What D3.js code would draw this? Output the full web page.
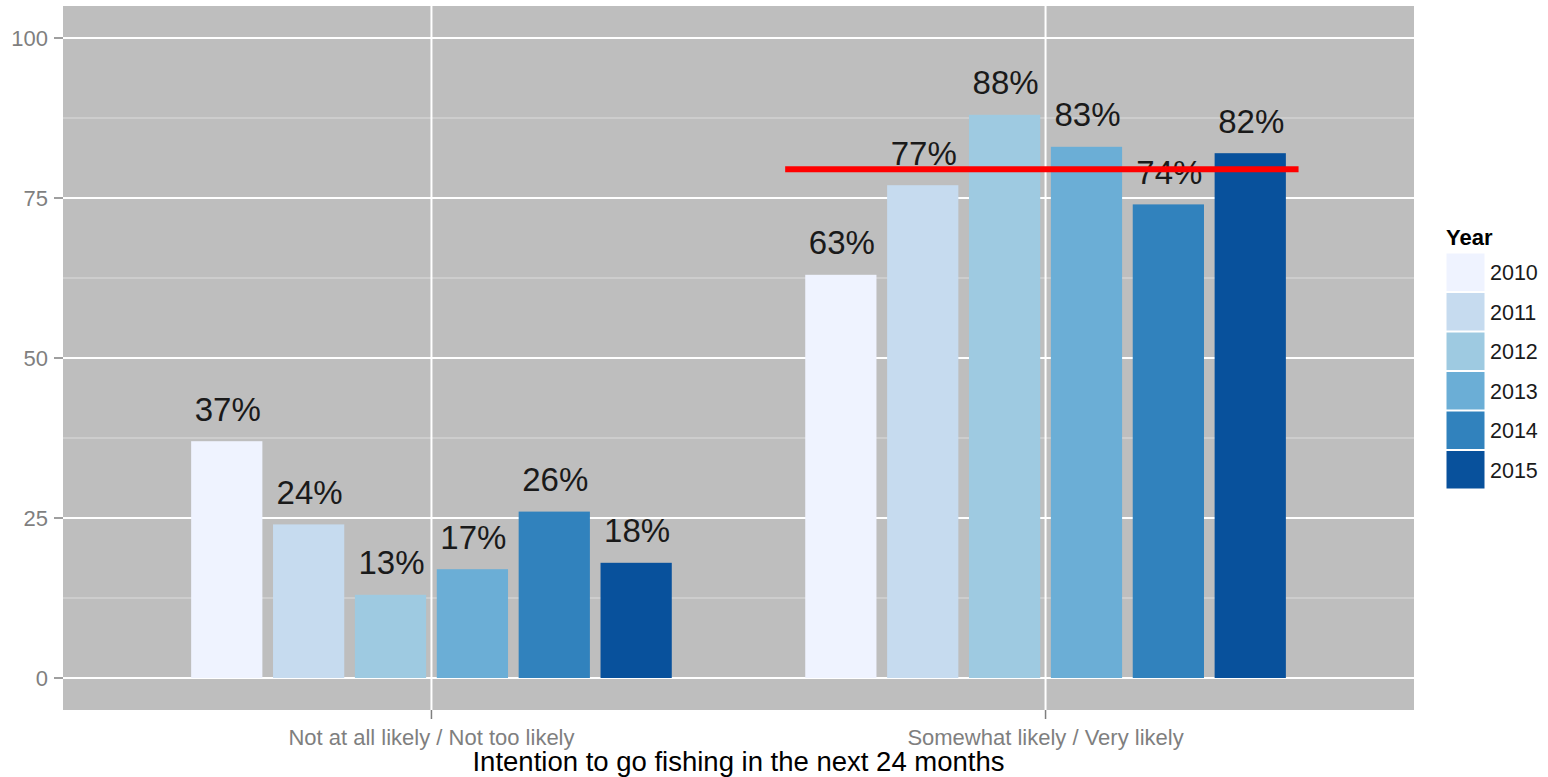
<!DOCTYPE html>
<html>
<head>
<meta charset="utf-8">
<script src="https://cdn.jsdelivr.net/npm/d3@7"></script>
<style>
  body { margin: 0; background: #fff; }
  svg { display: block; font-family: "Liberation Sans", Arial, Helvetica, sans-serif; }
</style>
</head>
<body>
<svg id="chart" width="1548" height="777"></svg>
<script>
// Share of anglers by intention to go fishing, per survey year
const categories = ["Not at all likely / Not too likely", "Somewhat likely / Very likely"];
const years = ["2010", "2011", "2012", "2013", "2014", "2015"];
const notLikely = [37, 24, 13, 17, 26, 18];
const likely = [63, 77, 88, 83, 74, 82];
const yTicks = [0, 25, 50, 75, 100];
const yMinorTicks = [12.5, 37.5, 62.5, 87.5];
const targetValue = 79.5;
const yearColors = ["#eff3ff", "#c6dbef", "#9ecae1", "#6baed6", "#3182bd", "#08519c"];

const seriesByCategory = [notLikely, likely];

const svg = d3.select("#chart");
const panel = { left: 63, right: 1414, top: 6, bottom: 710 };

// Discrete x positions with ggplot-style padding of 0.6 units on each side
const x = d3.scalePoint()
  .domain(categories)
  .range([panel.left, panel.right])
  .padding(0.6);

const groupWidth = x.step() * 0.8;
const xInner = d3.scaleBand()
  .domain(years)
  .range([-groupWidth / 2, groupWidth / 2]);
const barWidth = xInner.bandwidth() * 0.87;

const y = d3.scaleLinear().domain([-5, 105]).range([panel.bottom, panel.top]);

const color = d3.scaleOrdinal().domain(years).range(yearColors);

// Panel background
svg.append("rect")
  .attr("x", panel.left).attr("y", panel.top)
  .attr("width", panel.right - panel.left).attr("height", panel.bottom - panel.top)
  .attr("fill", "#bebebe");

// Minor and major grid lines
svg.append("g").selectAll("line").data(yMinorTicks).join("line")
  .attr("x1", panel.left).attr("x2", panel.right)
  .attr("y1", d => y(d)).attr("y2", d => y(d))
  .attr("stroke", "#dcdcdc").attr("stroke-width", 1);

svg.append("g").selectAll("line").data(yTicks).join("line")
  .attr("x1", panel.left).attr("x2", panel.right)
  .attr("y1", d => y(d)).attr("y2", d => y(d))
  .attr("stroke", "#ffffff").attr("stroke-width", 2);

svg.append("g").selectAll("line").data(categories).join("line")
  .attr("x1", d => x(d)).attr("x2", d => x(d))
  .attr("y1", panel.top).attr("y2", panel.bottom)
  .attr("stroke", "#ffffff").attr("stroke-width", 2);

// Bars and value labels
const flat = [];
categories.forEach((c, ci) => {
  years.forEach((yr, yi) => flat.push({ cat: c, year: yr, value: seriesByCategory[ci][yi] }));
});

const barX = d => x(d.cat) + xInner(d.year) + (xInner.bandwidth() - barWidth) / 2;

svg.append("g").selectAll("rect").data(flat).join("rect")
  .attr("x", barX)
  .attr("y", d => y(d.value))
  .attr("width", barWidth)
  .attr("height", d => y(0) - y(d.value))
  .attr("fill", d => color(d.year));

svg.append("g").selectAll("text").data(flat).join("text")
  .attr("x", d => barX(d) + barWidth / 2 + 1)
  .attr("y", d => y(d.value + 5))
  .attr("dy", "0.35em")
  .attr("text-anchor", "middle")
  .attr("font-size", 33)
  .attr("fill", "#1a1a1a")
  .text(d => d.value + "%");

// Reference line across the "likely" group
const likelyCat = categories[1];
svg.append("line")
  .attr("x1", x(likelyCat) - x.step() * 0.424)
  .attr("x2", x(likelyCat) + x.step() * 0.412)
  .attr("y1", y(targetValue)).attr("y2", y(targetValue))
  .attr("stroke", "#ff0000").attr("stroke-width", 6);

// Y axis
const yAxis = svg.append("g");
yAxis.selectAll("line").data(yTicks).join("line")
  .attr("x1", panel.left - 9).attr("x2", panel.left)
  .attr("y1", d => y(d)).attr("y2", d => y(d))
  .attr("stroke", "#7f7f7f").attr("stroke-width", 1.5);
yAxis.selectAll("text").data(yTicks).join("text")
  .attr("x", panel.left - 15)
  .attr("y", d => y(d))
  .attr("dy", "0.35em")
  .attr("text-anchor", "end")
  .attr("font-size", 22)
  .attr("fill", "#7f7f7f")
  .text(d => d);

// X axis
const xAxis = svg.append("g");
xAxis.selectAll("line").data(categories).join("line")
  .attr("x1", d => x(d)).attr("x2", d => x(d))
  .attr("y1", panel.bottom).attr("y2", panel.bottom + 9)
  .attr("stroke", "#7f7f7f").attr("stroke-width", 1.5);
xAxis.selectAll("text").data(categories).join("text")
  .attr("x", d => x(d))
  .attr("y", 745)
  .attr("text-anchor", "middle")
  .attr("font-size", 22)
  .attr("fill", "#7f7f7f")
  .text(d => d);

svg.append("text")
  .attr("x", (panel.left + panel.right) / 2)
  .attr("y", 771)
  .attr("text-anchor", "middle")
  .attr("font-size", 27.5)
  .attr("fill", "#000")
  .text("Intention to go fishing in the next 24 months");

// Legend
const legend = svg.append("g").attr("transform", "translate(1446,0)");
legend.append("text")
  .attr("x", 0).attr("y", 245)
  .attr("font-size", 22).attr("font-weight", "bold")
  .attr("fill", "#000")
  .text("Year");
const keyH = 39.5;
legend.selectAll("rect").data(years).join("rect")
  .attr("x", 0).attr("y", (d, i) => 253 + i * keyH)
  .attr("width", 39).attr("height", keyH - 1)
  .attr("fill", d => color(d))
  .attr("stroke", "#ffffff").attr("stroke-width", 1);
legend.selectAll("text.lbl").data(years).join("text")
  .attr("class", "lbl")
  .attr("x", 44).attr("y", (d, i) => 253 + i * keyH + keyH / 2)
  .attr("dy", "0.35em")
  .attr("font-size", 21.5)
  .attr("fill", "#1a1a1a")
  .text(d => d);
</script>
</body>
</html>
